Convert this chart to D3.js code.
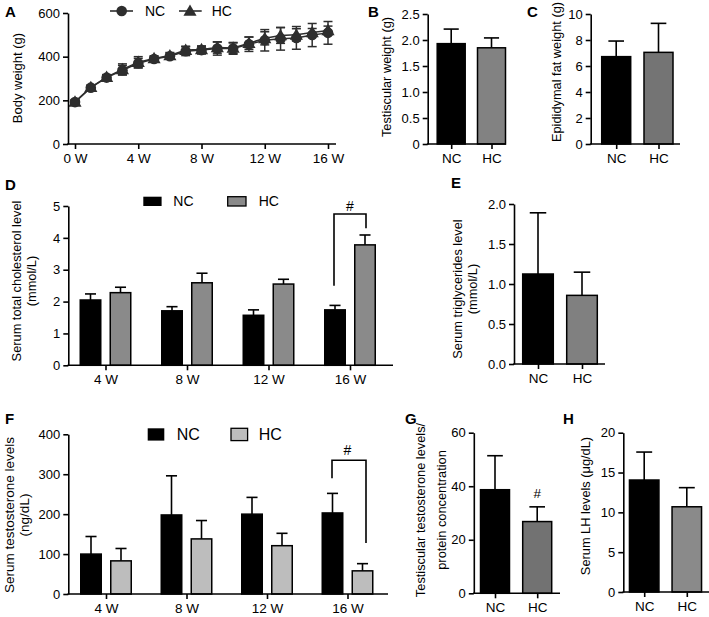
<!DOCTYPE html>
<html><head><meta charset="utf-8">
<script src="https://cdn.jsdelivr.net/npm/d3@7"></script>
<style>
body{margin:0;background:#fff}
svg{display:block}
text{font-family:"Liberation Sans",Arial,Helvetica,sans-serif;fill:#000}
</style></head><body>
<svg id="c" width="709" height="617"></svg>
<script>
// ---------- DATA ----------
const groups = ["NC", "HC"];
// A: body weight over weeks
const weeks = [0,1,2,3,4,5,6,7,8,9,10,11,12,13,14,15,16];
const bwNC   = [192,258,304,338,370,389,402,425,430,437,437,457,475,482,486,499,509];
const bwHC   = [193,260,306,342,375,392,405,430,433,442,440,462,484,497,500,511,520];
const bwNCsd = [10,10,12,22,22,12,14,20,18,30,26,33,49,52,52,53,52];
const bwHCsd = [10,10,12,25,25,12,14,18,16,26,25,28,30,36,28,18,20];
const bwYTicks = [0,200,400,600];
const bwXTicks = [0,4,8,12,16];
// B: testicular weight
const testisWeight = [1.93, 1.85];
const testisErr = [0.28, 0.19];
const testisTicks = [0,0.5,1.0,1.5,2.0,2.5];
// C: epididymal fat weight
const fatWeight = [6.72, 7.05];
const fatErr = [1.20, 2.23];
const fatTicks = [0,2,4,6,8,10];
// D: serum total cholesterol
const timepoints = ["4 W","8 W","12 W","16 W"];
const cholNC = [2.05, 1.71, 1.57, 1.74];
const cholNCerr = [0.19, 0.13, 0.17, 0.14];
const cholHC = [2.28, 2.59, 2.55, 3.78];
const cholHCerr = [0.17, 0.30, 0.15, 0.31];
const cholTicks = [0,1,2,3,4,5];
// E: serum triglycerides
const tg = [1.125, 0.858];
const tgErr = [0.765, 0.29];
const tgTicks = [0,0.5,1.0,1.5,2.0];
// F: serum testosterone
const testoNC = [100, 198, 200, 203];
const testoNCerr = [44, 98, 42, 49];
const testoHC = [83, 138, 121, 58];
const testoHCerr = [31, 46, 31, 18];
const testoTicks = [0,100,200,300,400];
// G: testicular testosterone / protein
const tt = [38.7, 26.8];
const ttErr = [12.7, 5.5];
const ttTicks = [0,20,40,60];
// H: serum LH
const lh = [14.06, 10.7];
const lhErr = [3.51, 2.4];
const lhTicks = [0,5,10,15,20];

// ---------- DRAWING ----------
const svg = d3.select("#c");
const AX_W = 1.6;
const TICK_FS = "13px";
const CAT_FS = "13.5px";

function yAxis(scale, x, ticks, fmt) {
  const g = svg.append("g").attr("transform", `translate(${x},0)`)
    .call(d3.axisLeft(scale).tickValues(ticks).tickSize(5).tickSizeOuter(0).tickPadding(3).tickFormat(fmt));
  g.select(".domain").attr("stroke-width", AX_W);
  g.selectAll(".tick line").attr("stroke-width", AX_W);
  g.selectAll("text").style("font-size", TICK_FS).attr("font-family", null);
  return g;
}
function xAxisLine(x0, x1, y) {
  svg.append("line").attr("x1", x0 - 0.8).attr("x2", x1).attr("y1", y).attr("y2", y)
    .attr("stroke", "#000").attr("stroke-width", AX_W);
}
function xAxisTicks(scale, y, fs) {
  const g = svg.append("g").attr("transform", `translate(0,${y})`)
    .call(d3.axisBottom(scale).tickSize(5).tickSizeOuter(0).tickPadding(4));
  g.select(".domain").remove();
  g.selectAll(".tick line").attr("stroke-width", AX_W);
  g.selectAll("text").style("font-size", fs || CAT_FS).attr("font-family", null);
  return g;
}
function yLabel(cx, cy, txt, fs) {
  svg.append("text").attr("transform", `translate(${cx},${cy}) rotate(-90)`)
    .attr("text-anchor", "middle").attr("dy", "0.35em")
    .style("font-size", fs || "12.8px").text(txt);
}
function panelLetter(x, y, t) {
  svg.append("text").attr("x", x).attr("y", y).style("font-size", "15px")
    .style("font-weight", "bold").text(t);
}
function bar(cx, w, v, e, y, color) {
  svg.append("line").attr("x1", cx).attr("x2", cx).attr("y1", y(v)).attr("y2", y(v + e))
    .attr("stroke", "#000").attr("stroke-width", 1.6);
  svg.append("line").attr("x1", cx - w * 0.27).attr("x2", cx + w * 0.27)
    .attr("y1", y(v + e)).attr("y2", y(v + e)).attr("stroke", "#000").attr("stroke-width", 1.6);
  svg.append("rect").attr("x", cx - w / 2).attr("y", y(v)).attr("width", w)
    .attr("height", y(0) - y(v)).attr("fill", color).attr("stroke", "#000").attr("stroke-width", 1.5);
}

function barPanel(o) {
  const y = d3.scaleLinear().domain([0, o.max]).range([o.y0, o.y1]);
  const x = d3.scalePoint().domain(groups).range(o.centers);
  groups.forEach((gname, i) => bar(x(gname), o.w, o.values[i], o.errs[i], y, o.colors[i]));
  xAxisLine(o.ax, o.axEnd, o.y0);
  yAxis(y, o.ax, o.ticks, o.fmt);
  xAxisTicks(x, o.y0);
  return {x, y};
}

// ---- Panel A ----
(function () {
  const x = d3.scaleLinear().domain([0, 16]).range([75, 328]);
  const y = d3.scaleLinear().domain([0, 600]).range([144, 13]);
  const mk = "#2e2e2e";
  const line = d3.line().x((d, i) => x(weeks[i])).y(d => y(d));
  [[bwNC, bwNCsd], [bwHC, bwHCsd]].forEach(([vals, sds]) => {
    vals.forEach((v, i) => {
      const cx = x(weeks[i]);
      svg.append("line").attr("x1", cx).attr("x2", cx).attr("y1", y(v - sds[i])).attr("y2", y(v + sds[i]))
        .attr("stroke", mk).attr("stroke-width", 1.5);
      [v - sds[i], v + sds[i]].forEach(e => svg.append("line").attr("x1", cx - 4.5).attr("x2", cx + 4.5)
        .attr("y1", y(e)).attr("y2", y(e)).attr("stroke", mk).attr("stroke-width", 1.5));
    });
  });
  svg.append("path").datum(bwNC).attr("d", line).attr("fill", "none").attr("stroke", mk).attr("stroke-width", 1.5);
  svg.append("path").datum(bwHC).attr("d", line).attr("fill", "none").attr("stroke", mk).attr("stroke-width", 1.5);
  svg.selectAll(".mNC").data(bwNC).enter().append("circle")
    .attr("cx", (d, i) => x(weeks[i])).attr("cy", d => y(d)).attr("r", 5.3).attr("fill", mk);
  const tri = d3.symbol().type(d3.symbolTriangle).size(75);
  svg.selectAll(".mHC").data(bwHC).enter().append("path").attr("d", tri)
    .attr("transform", (d, i) => `translate(${x(weeks[i])},${y(d) + 1})`).attr("fill", mk);
  xAxisLine(68, 336, 144);
  yAxis(y, 68, bwYTicks, d3.format("d"));
  const gx = svg.append("g").attr("transform", "translate(0,144)")
    .call(d3.axisBottom(x).tickValues(bwXTicks).tickSize(5).tickSizeOuter(0).tickPadding(4).tickFormat(d => d + " W"));
  gx.select(".domain").remove();
  gx.selectAll(".tick line").attr("stroke-width", AX_W);
  gx.selectAll("text").style("font-size", CAT_FS).attr("font-family", null);
  yLabel(17.5, 78, "Body weight (g)", "13px");
  // legend
  svg.append("line").attr("x1", 110).attr("x2", 133).attr("y1", 11).attr("y2", 11).attr("stroke", mk).attr("stroke-width", 1.6);
  svg.append("circle").attr("cx", 121.7).attr("cy", 11).attr("r", 5.3).attr("fill", mk);
  svg.append("text").attr("x", 145).attr("y", 11).attr("dy", "0.35em").style("font-size", "14px").text(groups[0]);
  svg.append("line").attr("x1", 179).attr("x2", 201.7).attr("y1", 11).attr("y2", 11).attr("stroke", mk).attr("stroke-width", 1.6);
  svg.append("path").attr("d", tri).attr("transform", "translate(190,12)").attr("fill", mk);
  svg.append("text").attr("x", 211.7).attr("y", 11).attr("dy", "0.35em").style("font-size", "14px").text(groups[1]);
  panelLetter(5, 17, "A");
})();

// ---- Panel B ----
barPanel({max: 2.5, y0: 144, y1: 14, ax: 427.7, axEnd: 506, centers: [451.2, 491.5], w: 28,
  values: testisWeight, errs: testisErr, colors: ["#000", "#828282"], ticks: testisTicks,
  fmt: d => d === 0 ? "0" : d3.format(".1f")(d)});
yLabel(386.7, 77, "Testiscular weight (g)");
panelLetter(368, 17, "B");

// ---- Panel C ----
barPanel({max: 10, y0: 144, y1: 14, ax: 590.7, axEnd: 680, centers: [616.2, 658.5], w: 29,
  values: fatWeight, errs: fatErr, colors: ["#000", "#747474"], ticks: fatTicks, fmt: d3.format("d")});
yLabel(556.5, 72, "Epididymal fat weight (g)");
panelLetter(527, 17, "C");

// ---- grouped panels ----
function groupedPanel(o) {
  const y = d3.scaleLinear().domain([0, o.max]).range([o.y0, o.y1]);
  const x = d3.scalePoint().domain(timepoints).range(o.centers);
  timepoints.forEach((t, i) => {
    bar(x(t) - 15, 20.5, o.nc[i], o.ncErr[i], y, "#000");
    bar(x(t) + 15, 20.5, o.hc[i], o.hcErr[i], y, o.hcColor);
  });
  xAxisLine(o.ax, o.axEnd, o.y0);
  yAxis(y, o.ax, o.ticks, d3.format("d"));
  xAxisTicks(x, o.y0);
  return {x, y};
}

// ---- Panel D ----
(function () {
  const hcCol = "#8a8a8a";
  const {x, y} = groupedPanel({max: 5, y0: 365.3, y1: 206, ax: 68.3, axEnd: 393, centers: [105.5, 350],
    nc: cholNC, ncErr: cholNCerr, hc: cholHC, hcErr: cholHCerr, hcColor: hcCol, ticks: cholTicks});
  const t = timepoints[3];
  svg.append("path").attr("d", `M${x(t) - 16},${y(2.5)}V${y(4.75)}H${x(t) + 16}V${y(4.3)}`)
    .attr("fill", "none").attr("stroke", "#000").attr("stroke-width", 1.6);
  svg.append("text").attr("x", x(t)).attr("y", y(5.0)).attr("dy", "0.35em").attr("text-anchor", "middle")
    .style("font-size", "14px").text("#");
  svg.append("rect").attr("x", 143.3).attr("y", 196.7).attr("width", 18.3).attr("height", 9.3).attr("fill", "#000");
  svg.append("text").attr("x", 173.3).attr("y", 201.5).attr("dy", "0.35em").style("font-size", "14px").text(groups[0]);
  svg.append("rect").attr("x", 227.7).attr("y", 196.7).attr("width", 18.3).attr("height", 9.3).attr("fill", hcCol)
    .attr("stroke", "#000").attr("stroke-width", 1.3);
  svg.append("text").attr("x", 258.7).attr("y", 201.5).attr("dy", "0.35em").style("font-size", "14px").text(groups[1]);
  yLabel(16.7, 281, "Serum total cholesterol level");
  yLabel(32, 281, "(mmol/L)");
  panelLetter(5, 190, "D");
})();

// ---- Panel E ----
barPanel({max: 2, y0: 364, y1: 204, ax: 514, axEnd: 605, centers: [538, 582], w: 30.6,
  values: tg, errs: tgErr, colors: ["#000", "#808080"], ticks: tgTicks, fmt: d3.format(".1f")});
yLabel(457.5, 289, "Serum triglycerides level");
yLabel(472.5, 289, "(mmol/L)");
panelLetter(451, 188, "E");

// ---- Panel F ----
(function () {
  const hcCol = "#bdbdbd";
  const {x, y} = groupedPanel({max: 400, y0: 594, y1: 434.3, ax: 68.3, axEnd: 388, centers: [106, 347.5],
    nc: testoNC, ncErr: testoNCerr, hc: testoHC, hcErr: testoHCerr, hcColor: hcCol, ticks: testoTicks});
  const t = timepoints[3];
  svg.append("path").attr("d", `M${x(t) - 15.5},${y(290)}V${y(335)}H${x(t) + 18.5}V${y(128)}`)
    .attr("fill", "none").attr("stroke", "#000").attr("stroke-width", 1.6);
  svg.append("text").attr("x", x(t)).attr("y", y(360)).attr("dy", "0.35em").attr("text-anchor", "middle")
    .style("font-size", "14px").text("#");
  svg.append("rect").attr("x", 147.7).attr("y", 428.3).attr("width", 16.6).attr("height", 12.3).attr("fill", "#000");
  svg.append("text").attr("x", 176.7).attr("y", 434.5).attr("dy", "0.35em").style("font-size", "16px").text(groups[0]);
  svg.append("rect").attr("x", 231).attr("y", 428.3).attr("width", 16.6).attr("height", 12.3).attr("fill", hcCol)
    .attr("stroke", "#000").attr("stroke-width", 1.3);
  svg.append("text").attr("x", 258.7).attr("y", 434.5).attr("dy", "0.35em").style("font-size", "16px").text(groups[1]);
  yLabel(9.5, 515, "Serum testosterone levels", "13.5px");
  yLabel(24.5, 515, "(ng/dL)", "13.5px");
  panelLetter(5, 424, "F");
})();

// ---- Panel G ----
(function () {
  const {x, y} = barPanel({max: 60, y0: 593.3, y1: 432.7, ax: 473.8, axEnd: 560, centers: [495, 537.2], w: 29,
    values: tt, errs: ttErr, colors: ["#000", "#727272"], ticks: ttTicks, fmt: d3.format("d")});
  svg.append("text").attr("x", x(groups[1])).attr("y", y(37.5)).attr("dy", "0.35em").attr("text-anchor", "middle")
    .style("font-size", "13.5px").text("#");
  yLabel(421, 510, "Testiscular testosterone levels/");
  yLabel(442, 510, "protein concentration");
  panelLetter(405, 424, "G");
})();

// ---- Panel H ----
barPanel({max: 20, y0: 592, y1: 432.7, ax: 623.3, axEnd: 709, centers: [644.2, 686.8], w: 29.5,
  values: lh, errs: lhErr, colors: ["#000", "#8a8a8a"], ticks: lhTicks, fmt: d3.format("d")});
yLabel(586, 506, "Serum LH levels (μg/dL)");
panelLetter(563, 424, "H");
</script>
</body></html>
